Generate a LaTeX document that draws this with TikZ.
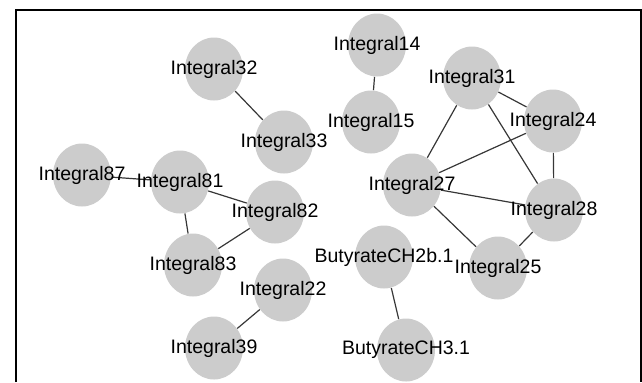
\documentclass[tikz,border=0pt]{standalone}
\usepackage{fontspec}
\setmainfont{Liberation Sans}
\usepackage{xcolor}
\usepackage{tikz}
\usetikzlibrary{shapes.geometric}
\usetikzlibrary{positioning}

\definecolor{nodegray}{RGB}{204,204,204}
\definecolor{edgegray}{RGB}{55,55,55}

\begin{document}
\begin{tikzpicture}[x=0.5pt, y=-0.5pt,
        disc/.style={ellipse, fill=nodegray, minimum width=29pt, minimum height=31.5pt, inner sep=0pt},
        lbl/.style={inner sep=0pt, font=\fontsize{9.75}{11}\selectfont},
        link/.style={edgegray, line width=0.6pt}]
        \useasboundingbox (0,0) rectangle (642,382);
        \draw[line width=0.7pt] (16,382) -- (16,10) -- (641,10) -- (641,382);

        % circles
        \node[disc] (i32) at (214,69) {};
        \node[disc] (i33) at (284,142) {};
        \node[disc] (i14) at (377,45) {};
        \node[disc] (i15) at (371,122) {};
        \node[disc] (i31) at (472,78) {};
        \node[disc] (i24) at (553,121) {};
        \node[disc] (i27) at (412,185) {};
        \node[disc] (i28) at (554,210) {};
        \node[disc] (i25) at (498,268) {};
        \node[disc] (b2) at (384,257) {};
        \node[disc] (b3) at (406,350) {};
        \node[disc] (i22) at (283,290) {};
        \node[disc] (i39) at (214,348) {};
        \node[disc] (i83) at (193,265) {};
        \node[disc] (i82) at (275,212) {};
        \node[disc] (i81) at (180,182) {};
        \node[disc] (i87) at (82,175) {};

        % edges
        \draw[link] (i32) -- (i33);
        \draw[link] (i14) -- (i15);
        \draw[link] (i87) -- (i81);
        \draw[link] (i81) -- (i82);
        \draw[link] (i81) -- (i83);
        \draw[link] (i82) -- (i83);
        \draw[link] (i22) -- (i39);
        \draw[link] (b2) -- (b3);
        \draw[link] (i31) -- (i27);
        \draw[link] (i31) -- (i24);
        \draw[link] (i31) -- (i28);
        \draw[link] (i24) -- (i27);
        \draw[link] (i24) -- (i28);
        \draw[link] (i27) -- (i28);
        \draw[link] (i27) -- (i25);
        \draw[link] (i28) -- (i25);

        % labels
        \node[lbl] (t32) at (i32) {Integral32};
        \node[lbl] (t33) at (i33) {Integral33};
        \node[lbl] (t14) at (i14) {Integral14};
        \node[lbl] (t15) at (i15) {Integral15};
        \node[lbl] (t31) at (i31) {Integral31};
        \node[lbl] (t24) at (i24) {Integral24};
        \node[lbl] (t27) at (i27) {Integral27};
        \node[lbl] (t28) at (i28) {Integral28};
        \node[lbl] (t25) at (i25) {Integral25};
        \node[lbl] (tb2) at (b2) {ButyrateCH2b.1};
        \node[lbl] (tb3) at (b3) {ButyrateCH3.1};
        \node[lbl] (t22) at (i22) {Integral22};
        \node[lbl] (t39) at (i39) {Integral39};
        \node[lbl] (t83) at (i83) {Integral83};
        \node[lbl] (t82) at (i82) {Integral82};
        \node[lbl] (t81) at (i81) {Integral81};
        \node[lbl] (t87) at (i87) {Integral87};
    \end{tikzpicture}
\end{document}
